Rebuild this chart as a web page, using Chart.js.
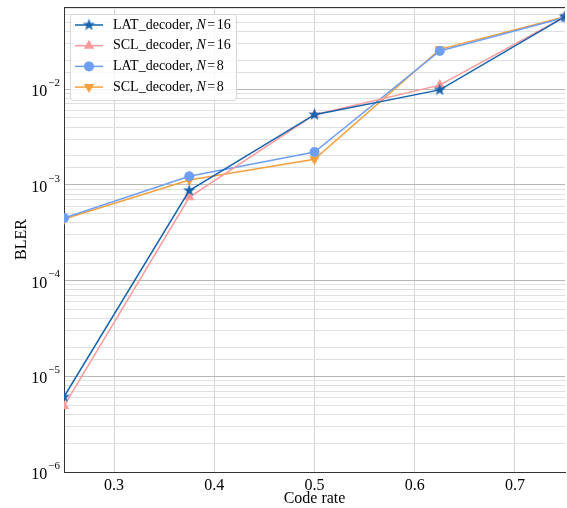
<!DOCTYPE html>
<html>
<head>
<meta charset="utf-8">
<script src="https://cdn.jsdelivr.net/npm/chart.js@4.4.0/dist/chart.umd.min.js"></script>
<style>
html,body{margin:0;padding:0;overflow:hidden;background:#fff;}
#wrap{width:571px;height:508px;}
</style>
</head>
<body>
<div id="wrap"><canvas id="chart" width="571" height="508"></canvas></div>
<script>
// values
const codeRate = [0.25, 0.375, 0.5, 0.625, 0.75];
const lat16 = [6.1e-6, 8.7e-4, 5.4e-3, 9.8e-3, 0.057];
const scl16 = [4.9e-6, 7.4e-4, 5.4e-3, 1.1e-2, 0.057];
const lat8 = [4.5e-4, 1.23e-3, 2.2e-3, 2.5e-2, 0.056];
const scl8 = [4.4e-4, 1.12e-3, 1.85e-3, 2.6e-2, 0.057];
const seriesNames = ["LAT_decoder", "SCL_decoder", "LAT_decoder", "SCL_decoder"];
const seriesN = ["16", "16", "8", "8"];
const xTicks = [0.3, 0.4, 0.5, 0.6, 0.7];
const yDecades = [-6, -5, -4, -3, -2];

const FONT = '"Liberation Serif", "DejaVu Serif", serif';
const colors = ['#1763ad', '#fa9a9c', '#6f9ef5', '#f5a03c'];

function starMarker(color, r){
  let s = Math.ceil(r*2+2);
  let c = document.createElement('canvas');
  c.width = s; c.height = s;
  let g = c.getContext('2d');
  g.fillStyle = color;
  g.beginPath();
  for(let i=0;i<10;i++){
    let rr = i%2===0 ? r : r*0.4;
    let a = -Math.PI/2 + i*Math.PI/5;
    g.lineTo(s/2 + rr*Math.cos(a), s/2 + rr*Math.sin(a));
  }
  g.closePath();
  g.fill();
  return c;
}
const star = starMarker(colors[0], 6.5);

function pts(vals){ return codeRate.map((x,i)=>({x:x, y:vals[i]})); }

const markers = [
  {pointStyle: star, radius: 6, rotation: 0},
  {pointStyle: 'triangle', radius: 6, rotation: 0},
  {pointStyle: 'circle', radius: 5, rotation: 0},
  {pointStyle: 'triangle', radius: 6, rotation: 180}
];
const allSeries = [lat16, scl16, lat8, scl8];

const datasets = allSeries.map((v,i)=>({
  data: pts(v),
  borderColor: colors[i],
  backgroundColor: colors[i],
  borderWidth: 1.5,
  pointStyle: markers[i].pointStyle,
  pointRadius: markers[i].radius,
  pointRotation: markers[i].rotation,
  pointBorderWidth: 0,
  pointHoverRadius: markers[i].radius,
  tension: 0
}));

function isDecade(v){ let l = Math.log10(v); return Math.abs(l-Math.round(l))<1e-6; }

const extras = {
  id: 'extras',
  afterDraw(chart){
    const ctx = chart.ctx, a = chart.chartArea, y = chart.scales.y;
    ctx.save();
    // top spine
    ctx.strokeStyle = '#333'; ctx.lineWidth = 1;
    ctx.beginPath(); ctx.moveTo(a.left, a.top+0.5); ctx.lineTo(a.right, a.top+0.5); ctx.stroke();
    // y tick labels 10^k
    ctx.fillStyle = '#000';
    ctx.textBaseline = 'middle';
    yDecades.forEach(k=>{
      let py = y.getPixelForValue(Math.pow(10,k));
      let sup = '\u2212' + Math.abs(k);
      ctx.font = '11px ' + FONT;
      let sw = ctx.measureText(sup).width;
      let right = a.left - 4;
      ctx.textAlign = 'left';
      ctx.fillText(sup, right - sw, py - 6);
      ctx.font = '16px ' + FONT;
      ctx.textAlign = 'right';
      ctx.fillText('10', right - sw - 1, py + 3);
    });
    // legend
    let lx = 70, ly = 14, lw = 166, lh = 86;
    ctx.fillStyle = 'rgba(255,255,255,0.8)';
    ctx.strokeStyle = '#d6d6d6';
    ctx.beginPath();
    ctx.roundRect(lx+0.5, ly+0.5, lw, lh, 3);
    ctx.fill(); ctx.stroke();
    for(let i=0;i<4;i++){
      let ry = ly + 11 + i*20.7;
      ctx.strokeStyle = colors[i]; ctx.lineWidth = 1.5;
      ctx.beginPath(); ctx.moveTo(lx+5, ry); ctx.lineTo(lx+33, ry); ctx.stroke();
      ctx.fillStyle = colors[i];
      Chart.helpers.drawPoint(ctx, {pointStyle: markers[i].pointStyle, radius: markers[i].radius, rotation: markers[i].rotation, borderWidth: 0}, lx+19, ry);
      ctx.fillStyle = '#000';
      ctx.textAlign = 'left'; ctx.textBaseline = 'middle';
      let tx = lx + 43;
      ctx.font = '14px ' + FONT;
      let t1 = seriesNames[i] + ', ';
      ctx.fillText(t1, tx, ry); tx += ctx.measureText(t1).width;
      ctx.font = 'italic 14px ' + FONT;
      ctx.fillText('N', tx, ry); tx += ctx.measureText('N').width + 1.5;
      ctx.font = '14px ' + FONT;
      ctx.fillText('=', tx, ry); tx += ctx.measureText('=').width + 1.5;
      ctx.fillText(seriesN[i], tx, ry);
    }
    ctx.restore();
  }
};

new Chart(document.getElementById('chart'), {
  type: 'line',
  data: {datasets: datasets},
  options: {
    responsive: false,
    animation: false,
    layout: {padding: {top: 7, left: 0, right: 0, bottom: 0}},
    plugins: {legend: {display: false}, tooltip: {enabled: false}},
    scales: {
      x: {
        type: 'linear',
        min: 0.25, max: 0.75,
        afterBuildTicks: s => { s.ticks = xTicks.map(v=>({value: v})); },
        afterFit: s => { s.height = 36; },
        grid: {color: '#d4d4d4', drawTicks: false},
        border: {color: '#333', width: 1},
        ticks: {color: '#000', font: {family: FONT, size: 16}, padding: 4, callback: v => v.toFixed(1)},
        title: {display: true, text: 'Code rate', color: '#000', font: {family: FONT, size: 16}, padding: {top: 0, bottom: 0}}
      },
      y: {
        type: 'logarithmic',
        min: 1e-6, max: 0.072,
        afterFit: s => { s.width = 64; },
        grid: {
          color: c => (c.tick && isDecade(c.tick.value)) ? '#b8b8b8' : '#e0e0e0',
          drawTicks: false
        },
        border: {color: '#333', width: 1},
        ticks: {display: false},
        title: {display: true, text: 'BLER', color: '#000', font: {family: FONT, size: 16}, padding: {top: 12, bottom: 0}}
      }
    }
  },
  plugins: [extras]
});
</script>
</body>
</html>
